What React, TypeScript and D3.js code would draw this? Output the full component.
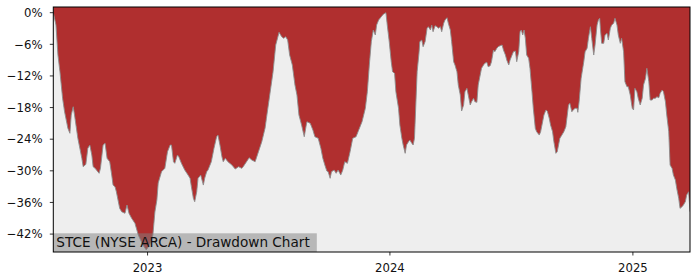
import React from "react";
import * as d3 from "d3";

const dates: string[] = [
  "2022-08-12","2022-08-16","2022-08-19","2022-08-22","2022-08-26","2022-08-29","2022-09-03","2022-09-06","2022-09-08","2022-09-11",
  "2022-09-13","2022-09-18","2022-09-24","2022-09-26","2022-09-30","2022-10-03","2022-10-06","2022-10-09","2022-10-11","2022-10-14",
  "2022-10-16","2022-10-20","2022-10-22","2022-10-26","2022-10-29","2022-11-01","2022-11-05","2022-11-08","2022-11-10","2022-11-13",
  "2022-11-15","2022-11-20","2022-11-23","2022-11-28","2022-12-01","2022-12-04","2022-12-08","2022-12-13","2022-12-18","2022-12-25",
  "2022-12-30","2023-01-04","2023-01-09","2023-01-12","2023-01-15","2023-01-17","2023-01-22","2023-01-27","2023-01-31","2023-02-04",
  "2023-02-06","2023-02-09","2023-02-11","2023-02-15","2023-02-17","2023-02-21","2023-02-26","2023-03-03","2023-03-06","2023-03-08",
  "2023-03-11","2023-03-13","2023-03-16","2023-03-18","2023-03-22","2023-03-26","2023-03-28","2023-03-31","2023-04-02","2023-04-07",
  "2023-04-11","2023-04-15","2023-04-17","2023-04-20","2023-04-23","2023-04-25","2023-04-28","2023-05-02","2023-05-08","2023-05-13",
  "2023-05-18","2023-05-23","2023-05-25","2023-05-30","2023-06-03","2023-06-07","2023-06-12","2023-06-17","2023-06-22","2023-06-27",
  "2023-06-29","2023-07-04","2023-07-09","2023-07-13","2023-07-17","2023-07-18","2023-07-22","2023-07-25","2023-07-28","2023-07-31",
  "2023-08-03","2023-08-07","2023-08-11","2023-08-14","2023-08-17","2023-08-21","2023-08-25","2023-08-28","2023-08-29","2023-09-03",
  "2023-09-07","2023-09-10","2023-09-15","2023-09-19","2023-09-22","2023-09-25","2023-09-28","2023-09-30","2023-10-03","2023-10-05",
  "2023-10-09","2023-10-12","2023-10-15","2023-10-19","2023-10-22","2023-10-25","2023-10-29","2023-11-02","2023-11-06","2023-11-11",
  "2023-11-14","2023-11-20","2023-11-25","2023-11-28","2023-12-01","2023-12-04","2023-12-07","2023-12-10","2023-12-12","2023-12-15",
  "2023-12-19","2023-12-22","2023-12-26","2023-12-28","2023-12-31","2024-01-03","2024-01-05","2024-01-08","2024-01-10","2024-01-14",
  "2024-01-16","2024-01-19","2024-01-21","2024-01-24","2024-01-26","2024-01-29","2024-01-31","2024-02-03","2024-02-05","2024-02-07",
  "2024-02-09","2024-02-11","2024-02-14","2024-02-15","2024-02-18","2024-02-20","2024-02-23","2024-02-26","2024-02-28","2024-03-02",
  "2024-03-04","2024-03-06","2024-03-09","2024-03-12","2024-03-14","2024-03-17","2024-03-19","2024-03-22","2024-03-24","2024-03-27",
  "2024-03-29","2024-04-01","2024-04-03","2024-04-06","2024-04-08","2024-04-11","2024-04-13","2024-04-16","2024-04-18","2024-04-21",
  "2024-04-23","2024-04-26","2024-04-28","2024-05-01","2024-05-03","2024-05-06","2024-05-08","2024-05-11","2024-05-13","2024-05-16",
  "2024-05-18","2024-05-21","2024-05-23","2024-05-26","2024-05-28","2024-05-31","2024-06-02","2024-06-05","2024-06-07","2024-06-10",
  "2024-06-12","2024-06-15","2024-06-18","2024-06-20","2024-06-23","2024-06-25","2024-06-28","2024-06-30","2024-07-03","2024-07-05",
  "2024-07-08","2024-07-10","2024-07-13","2024-07-15","2024-07-17","2024-07-19","2024-07-21","2024-07-23","2024-07-25","2024-07-28",
  "2024-07-30","2024-08-02","2024-08-04","2024-08-07","2024-08-09","2024-08-13","2024-08-15","2024-08-18","2024-08-20","2024-08-23",
  "2024-08-25","2024-08-28","2024-08-30","2024-09-02","2024-09-04","2024-09-07","2024-09-09","2024-09-11","2024-09-13","2024-09-16",
  "2024-09-19","2024-09-22","2024-09-26","2024-09-28","2024-10-01","2024-10-03","2024-10-06","2024-10-09","2024-10-10","2024-10-12",
  "2024-10-15","2024-10-19","2024-10-21","2024-10-24","2024-10-26","2024-10-29","2024-10-31","2024-11-03","2024-11-05","2024-11-08",
  "2024-11-10","2024-11-12","2024-11-13","2024-11-15","2024-11-18","2024-11-20","2024-11-23","2024-11-25","2024-11-28","2024-11-30",
  "2024-12-03","2024-12-05","2024-12-08","2024-12-10","2024-12-13","2024-12-15","2024-12-18","2024-12-20","2024-12-23","2024-12-25",
  "2024-12-28","2024-12-31","2025-01-02","2025-01-04","2025-01-07","2025-01-09","2025-01-12","2025-01-15","2025-01-17","2025-01-20",
  "2025-01-22","2025-01-25","2025-01-27","2025-01-30","2025-02-01","2025-02-04","2025-02-06","2025-02-09","2025-02-11","2025-02-14",
  "2025-02-16","2025-02-19","2025-02-21","2025-02-24","2025-02-26","2025-03-01","2025-03-03","2025-03-06","2025-03-08","2025-03-11",
  "2025-03-13","2025-03-16","2025-03-18","2025-03-21","2025-03-23","2025-03-26","2025-03-28",
];

const drawdown: number[] = [
  0,-2.33,-8.03,-11.2,-16.24,-18.79,-21.94,-22.88,-19.41,-17.84,
  -19.41,-23.83,-27.63,-29.22,-28.77,-25.73,-25.1,-27.0,-29.22,-29.53,
  -29.85,-30.47,-29.53,-25.1,-24.78,-27.63,-28.27,-30.8,-32.7,-33.02,
  -33.97,-37.12,-37.76,-38.06,-36.49,-38.06,-39.01,-39.96,-42.18,-44.08,
  -45.0,-44.08,-42.18,-37.82,-35.54,-32.31,-30.17,-29.53,-26.38,-25.1,
  -25.1,-28.27,-28.58,-27.0,-27.32,-28.58,-29.85,-30.8,-31.42,-33.02,
  -35.22,-35.86,-33.97,-31.42,-30.8,-32.7,-31.42,-30.17,-29.85,-28.27,
  -25.73,-23.53,-23.21,-25.1,-27.32,-28.27,-27.63,-28.27,-28.9,-29.66,
  -29.22,-29.53,-29.22,-28.27,-27.51,-27.95,-28.27,-26.38,-24.48,-21.88,
  -20.04,-15.62,-11.2,-6.13,-4.23,-3.72,-4.55,-4.86,-4.55,-5.18,
  -8.03,-9.92,-13.72,-15.62,-19.41,-21.31,-23.53,-21.31,-20.68,-20.99,
  -22.26,-23.53,-23.83,-25.73,-27.63,-28.9,-30.04,-30.17,-31.42,-30.17,
  -29.85,-30.47,-29.85,-30.8,-29.85,-28.27,-28.58,-26.38,-23.83,-23.53,
  -22.58,-20.68,-18.14,-14.99,-9.92,-5.5,-3.28,-4.23,-2.33,-1.39,
  -0.76,-0.3,0,-2.33,-5.5,-9.3,-11.2,-11.5,-14.99,-18.14,
  -21.31,-23.83,-25.1,-26.68,-25.1,-24.48,-24.16,-24.78,-25.1,-23.83,
  -17.51,-11.2,-7.4,-5.5,-5.18,-6.45,-5.5,-2.96,-2.66,-3.28,
  -2.33,-3.61,-2.47,-2.66,-2.96,-2.66,-3.61,-2.01,-1.39,-0.95,
  -2.01,-3.28,-5.5,-9.3,-9.92,-11.2,-13.72,-15.62,-18.65,-17.51,
  -14.99,-14.35,-15.62,-17.51,-16.89,-16.24,-16.89,-17.0,-13.72,-11.82,
  -10.55,-9.92,-9.6,-9.41,-10.25,-10.06,-9.3,-7.08,-7.4,-6.76,
  -6.45,-6.26,-6.13,-7.08,-8.03,-8.98,-9.92,-8.98,-8.03,-7.4,
  -7.27,-9.3,-7.4,-3.61,-3.28,-4.23,-3.28,-4.86,-8.03,-8.65,
  -10.55,-14.99,-18.14,-21.94,-22.58,-23.21,-22.58,-20.68,-19.41,-18.46,
  -18.65,-20.04,-21.31,-22.58,-24.48,-26.68,-26.38,-25.1,-23.83,-23.21,
  -22.58,-21.63,-17.51,-17.19,-18.79,-18.46,-18.14,-18.14,-18.9,-16.89,
  -12.45,-9.3,-7.4,-6.76,-4.86,-2.66,-4.86,-8.03,-6.13,-2.33,
  -1.39,-1.06,-2.96,-5.81,-5.81,-4.23,-3.91,-5.18,-2.96,-2.33,
  -2.01,-1.06,-2.33,-4.23,-5.81,-4.86,-7.4,-13.09,-14.04,-14.04,
  -15.62,-18.14,-18.46,-14.35,-14.99,-16.24,-17.51,-16.24,-13.72,-12.45,
  -10.55,-13.09,-16.57,-16.57,-16.24,-16.24,-15.94,-16.13,-15.29,-14.67,
  -14.99,-16.89,-19.41,-22.58,-28.9,-29.53,-30.8,-31.75,-33.32,-35.22,
  -37.12,-36.81,-36.49,-35.86,-34.59,-33.97,-37.76,
];

const yTicks: number[] = [0, -6, -12, -18, -24, -30, -36, -42];
const xTickYears: string[] = ["2023", "2024", "2025"];
const title = "STCE (NYSE ARCA) - Drawdown Chart";

const W = 700;
const H = 280;
const L = 53.3;
const R = 690;
const T = 7;
const B = 252;
const FONT = "'DejaVu Sans', sans-serif";

export default function App() {
  const parse = d3.timeParse("%Y-%m-%d");
  const data = dates.map((d, i) => ({ date: parse(d) as Date, v: drawdown[i] }));
  const x = d3
    .scaleTime()
    .domain(d3.extent(data, (d) => d.date) as [Date, Date])
    .range([L, R]);
  const y = d3.scaleLinear().domain([-45.4, 1.08]).range([B, T]);

  const area = d3
    .area<{ date: Date; v: number }>()
    .x((d) => x(d.date))
    .y0(T)
    .y1((d) => y(d.v));
  const line = d3
    .line<{ date: Date; v: number }>()
    .x((d) => x(d.date))
    .y((d) => y(d.v));

  return (
    <svg
      width={W}
      height={H}
      style={{ position: "absolute", left: 0, top: 0, background: "#ffffff" }}
    >
      <defs>
        <clipPath id="plotClip">
          <rect x={L} y={T} width={R - L} height={B - T} />
        </clipPath>
      </defs>
      <rect x={L} y={T} width={R - L} height={B - T} fill="#eeeeee" />
      <g clipPath="url(#plotClip)">
        <path d={area(data) || ""} fill="#b02f2f" />
        <path d={line(data) || ""} fill="none" stroke="#8c8c8c" strokeWidth={0.9} />
      </g>
      <rect
        x={L}
        y={233.3}
        width={263.5}
        height={B - 233.3}
        fill="#808080"
        fillOpacity={0.5}
      />
      <text x={56.3} y={247.2} fontFamily={FONT} fontSize={13.6} fill="#111">
        {title}
      </text>
      <rect x={L} y={T} width={R - L} height={B - T} fill="none" stroke="#000" strokeWidth={1} />
      {yTicks.map((t) => (
        <g key={t}>
          <line x1={L - 3.5} x2={L} y1={y(t)} y2={y(t)} stroke="#000" strokeWidth={0.8} />
          <text
            x={42.5}
            y={y(t) + 4.2}
            textAnchor="end"
            fontFamily={FONT}
            fontSize={11.7}
            fill="#111"
          >
            {t === 0 ? "0%" : `\u2212${Math.abs(t)}%`}
          </text>
        </g>
      ))}
      {xTickYears.map((yr) => {
        const px = x(parse(`${yr}-01-01`) as Date);
        return (
          <g key={yr}>
            <line x1={px} x2={px} y1={B} y2={B + 3.5} stroke="#000" strokeWidth={0.8} />
            <text
              x={px}
              y={271.5}
              textAnchor="middle"
              fontFamily={FONT}
              fontSize={11.7}
              fill="#111"
            >
              {yr}
            </text>
          </g>
        );
      })}
    </svg>
  );
}
